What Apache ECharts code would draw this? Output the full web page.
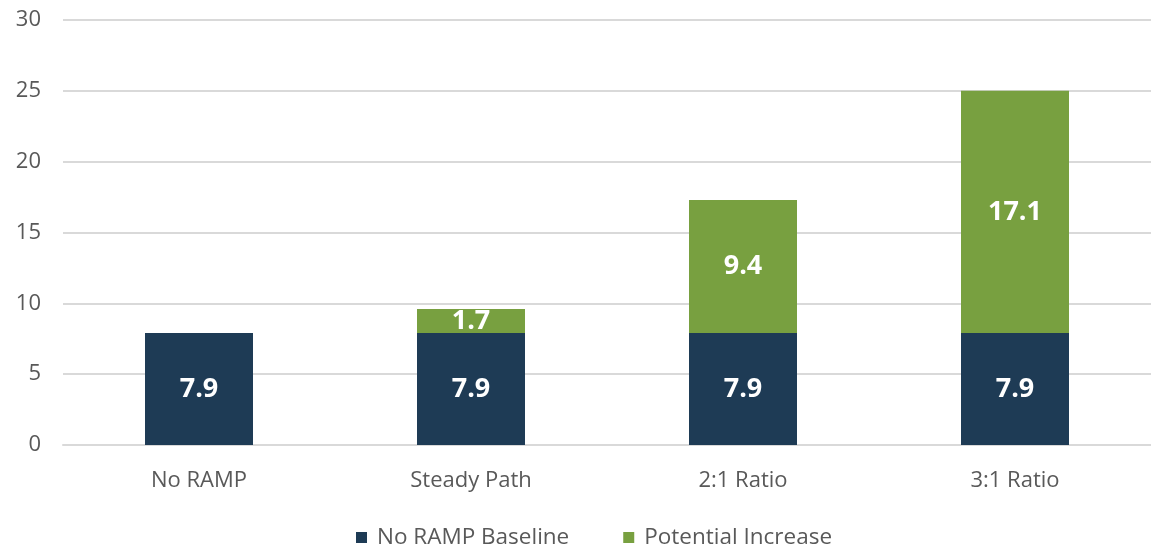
<!DOCTYPE html>
<html>
<head>
<meta charset="utf-8">
<script src="https://cdn.jsdelivr.net/npm/echarts@6/dist/echarts.min.js"></script>
<style>
  html, body { margin: 0; padding: 0; background: #ffffff; }
  #chart { width: 1151px; height: 550px; }
</style>
</head>
<body>
<div id="chart"></div>
<script>
const categories = ['No RAMP', 'Steady Path', '2:1 Ratio', '3:1 Ratio'];
const baseline = [7.9, 7.9, 7.9, 7.9];
const increase = [null, 1.7, 9.4, 17.1];
const seriesNames = ['No RAMP Baseline', 'Potential Increase'];

const font = '"Open Sans", "Noto Sans", sans-serif';
const chart = echarts.init(document.getElementById('chart'));

const labelStyle = {
  show: true,
  position: 'inside',
  color: '#ffffff',
  fontFamily: font,
  fontSize: 27,
  fontWeight: 'bold'
};

chart.setOption({
  animation: false,
  grid: { left: 63, right: 0, top: 20, bottom: 105, containLabel: false },
  legend: {
    bottom: -4,
    left: 351,
    itemWidth: 11,
    itemHeight: 11,
    itemGap: 54,
    icon: 'rect',
    textStyle: { fontFamily: font, fontSize: 22.5, color: '#595959', padding: [0, 0, 0, 5] },
    data: seriesNames
  },
  xAxis: {
    type: 'category',
    data: categories,
    axisLine: { show: true, lineStyle: { color: '#d9d9d9', width: 2 } },
    axisTick: { show: false },
    axisLabel: { fontFamily: font, fontSize: 22, color: '#595959', margin: 25 }
  },
  yAxis: {
    type: 'value',
    min: 0,
    max: 30,
    interval: 5,
    axisLine: { show: false },
    axisTick: { show: false },
    splitLine: { lineStyle: { color: '#d9d9d9', width: 2 } },
    axisLabel: { fontFamily: font, fontSize: 22, color: '#595959', margin: 22 }
  },
  series: [
    {
      name: seriesNames[0],
      type: 'bar',
      stack: 'total',
      barWidth: 108,
      data: baseline,
      itemStyle: { color: '#1e3b55' },
      label: labelStyle
    },
    {
      name: seriesNames[1],
      type: 'bar',
      stack: 'total',
      barWidth: 108,
      data: increase,
      itemStyle: { color: '#78a040' },
      label: labelStyle
    }
  ]
});
</script>
</body>
</html>
